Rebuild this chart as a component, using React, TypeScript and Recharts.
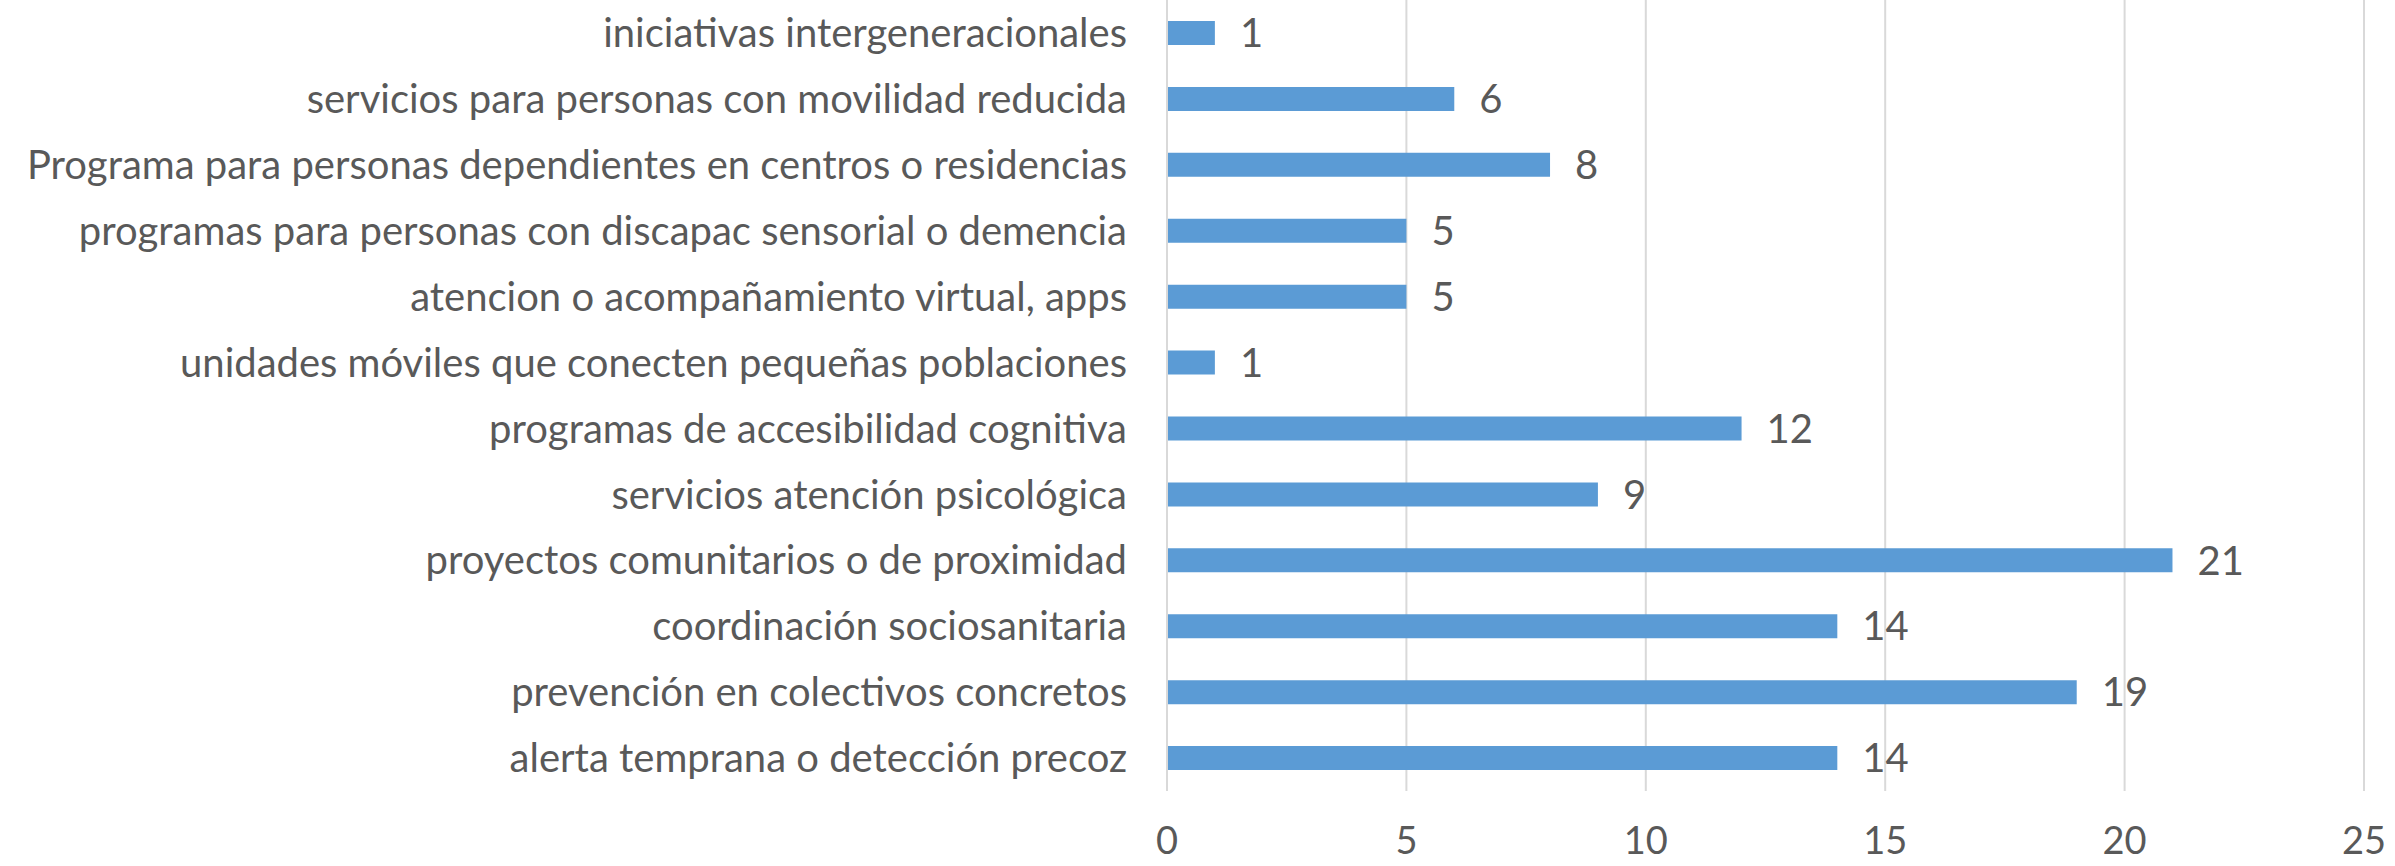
import React from 'react';
import { BarChart, Bar, XAxis, YAxis, CartesianGrid, LabelList } from 'recharts';

const categories = [
  'iniciativas intergeneracionales',
  'servicios para personas con movilidad reducida',
  'Programa para personas dependientes en centros o residencias',
  'programas para personas con discapac sensorial o demencia',
  'atencion o acompañamiento virtual, apps',
  'unidades móviles que conecten pequeñas poblaciones',
  'programas de accesibilidad cognitiva',
  'servicios atención psicológica',
  'proyectos comunitarios o de proximidad',
  'coordinación sociosanitaria',
  'prevención en colectivos concretos',
  'alerta temprana o detección precoz',
];

const values = [1, 6, 8, 5, 5, 1, 12, 9, 21, 14, 19, 14];

const xTicks = [0, 5, 10, 15, 20, 25];

const data = categories.map((name, i) => ({ name, value: values[i] }));

const FONT = 'Lato, "Open Sans", sans-serif';
const TEXT = '#595959';

const App = () => {
  return (
    <div style={{ position: 'absolute', left: 0, top: 0 }}>
      <BarChart
        width={2395}
        height={866}
        data={data}
        layout="vertical"
        margin={{ top: 0, right: 31, bottom: 0, left: 0 }}
        barCategoryGap={0}
      >
        <CartesianGrid horizontal={false} stroke="#d9d9d9" strokeWidth={2} />
        <XAxis
          type="number"
          domain={[0, 25]}
          ticks={xTicks}
          axisLine={false}
          tickLine={false}
          tickSize={0}
          tickMargin={36}
          height={75}
          tick={{ fill: TEXT, fontSize: 38, fontFamily: FONT }}
        />
        <YAxis
          type="category"
          dataKey="name"
          width={1167}
          axisLine={{ stroke: '#d9d9d9', strokeWidth: 2 }}
          tickLine={false}
          tickSize={0}
          tickMargin={40}
          interval={0}
          tick={{ fill: TEXT, fontSize: 40, fontFamily: FONT }}
        />
        <Bar dataKey="value" fill="#5B9BD5" barSize={24} isAnimationActive={false}>
          <LabelList
            dataKey="value"
            position="right"
            offset={25}
            fill={TEXT}
            fontSize={40}
            fontFamily={FONT}
          />
        </Bar>
      </BarChart>
    </div>
  );
};

export default App;
